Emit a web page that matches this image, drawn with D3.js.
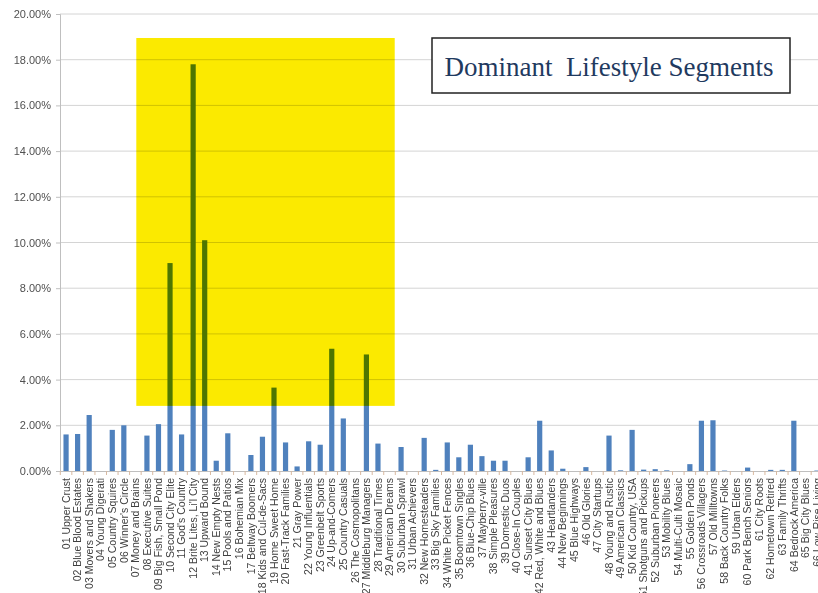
<!doctype html>
<html lang="en">
<head>
  <meta charset="UTF-8">
  <title>Dominant Lifestyle Segments</title>
  <script src="https://d3js.org/d3.v7.min.js"></script>
  <style>
    body { margin: 0; background: #fff; }
  </style>
</head>
<body>
  <div id="myDiv"></div>
  <script type="text/javascript">
    // segment names, in chart order
    var segments = ["01 Upper Crust", "02 Blue Blood Estates", "03 Movers and Shakers", "04 Young Digerati",
      "05 Country Squires", "06 Winner's Circle", "07 Money and Brains", "08 Executive Suites",
      "09 Big Fish, Small Pond", "10 Second City Elite", "11 God's Country", "12 Brite Lites, Li'l City",
      "13 Upward Bound", "14 New Empty Nests", "15 Pools and Patios", "16 Bohemian Mix",
      "17 Beltway Boomers", "18 Kids and Cul-de-Sacs", "19 Home Sweet Home", "20 Fast-Track Families",
      "21 Gray Power", "22 Young Influentials", "23 Greenbelt Sports", "24 Up-and-Comers",
      "25 Country Casuals", "26 The Cosmopolitans", "27 Middleburg Managers", "28 Traditional Times",
      "29 American Dreams", "30 Suburban Sprawl", "31 Urban Achievers", "32 New Homesteaders",
      "33 Big Sky Families", "34 White Picket Fences", "35 Boomtown Singles", "36 Blue-Chip Blues",
      "37 Mayberry-ville", "38 Simple Pleasures", "39 Domestic Duos", "40 Close-In Couples",
      "41 Sunset City Blues", "42 Red, White and Blues", "43 Heartlanders", "44 New Beginnings",
      "45 Blue Highways", "46 Old Glories", "47 City Startups", "48 Young and Rustic",
      "49 American Classics", "50 Kid Country, USA", "51 Shotguns and Pickups", "52 Suburban Pioneers",
      "53 Mobility Blues", "54 Multi-Culti Mosaic", "55 Golden Ponds", "56 Crossroads Villagers",
      "57 Old Milltowns", "58 Back Country Folks", "59 Urban Elders", "60 Park Bench Seniors",
      "61 City Roots", "62 Hometown Retired", "63 Family Thrifts", "64 Bedrock America",
      "65 Big City Blues", "66 Low-Rise Living"];

    // share of households, percent
    var shares = [1.6, 1.62, 2.45, 0, 1.8, 2.0, 0, 1.55, 2.05, 9.1, 1.6, 17.8,
      10.1, 0.45, 1.65, 0, 0.7, 1.5, 3.65, 1.25, 0.2, 1.3, 1.15, 5.35,
      2.3, 0, 5.1, 1.2, 0, 1.05, 0, 1.45, 0.05, 1.25, 0.6, 1.15,
      0.65, 0.45, 0.45, 0, 0.6, 2.2, 0.9, 0.1, 0, 0.17, 0, 1.55,
      0.03, 1.8, 0.06, 0.08, 0.03, 0, 0.3, 2.2, 2.22, 0.02, 0, 0.15,
      0, 0.05, 0.05, 2.2, 0, 0.02];

    var yTicks = [0, 2, 4, 6, 8, 10, 12, 14, 16, 18, 20];

    // highlighted block: from segment 07 to 29, between these levels
    var highlight = { from: "07 Money and Brains", to: "29 American Dreams", low: 2.85, high: 18.95 };

    var data = segments.map(function(s, i) { return { name: s, value: shares[i] }; });

    var width = 818, height = 593;
    var margin = { top: 14, left: 60, bottom: 122 };
    var plotRight = 823;

    var svg = d3.select("#myDiv").append("svg")
      .attr("width", width)
      .attr("height", height)
      .style("display", "block");

    var x = d3.scaleBand()
      .domain(segments)
      .range([margin.left, plotRight])
      .paddingInner(0.55)
      .paddingOuter(0.3);

    var y = d3.scaleLinear()
      .domain([0, 20])
      .range([height - margin.bottom, margin.top]);

    // gridlines
    svg.append("g")
      .selectAll("line")
      .data(yTicks.filter(function(t) { return t > 0; }))
      .enter().append("line")
        .attr("x1", margin.left)
        .attr("x2", plotRight)
        .attr("y1", function(d) { return y(d); })
        .attr("y2", function(d) { return y(d); })
        .attr("stroke", "#d4d4d4")
        .attr("stroke-width", 1);

    // y axis
    var yAxis = d3.axisLeft(y)
      .tickValues(yTicks)
      .tickFormat(function(d) { return d.toFixed(2) + "%"; })
      .tickSize(4)
      .tickPadding(5);
    var gy = svg.append("g")
      .attr("transform", "translate(" + margin.left + ",0)")
      .call(yAxis);
    gy.select(".domain").attr("stroke", "#bfbfbf");
    gy.selectAll(".tick line").attr("stroke", "#bfbfbf");
    gy.selectAll("text")
      .attr("fill", "#505050")
      .style("font-family", "'Liberation Sans', Arial, sans-serif")
      .style("font-size", "11px");

    // bars
    svg.append("g")
      .selectAll("rect")
      .data(data)
      .enter().append("rect")
        .attr("x", function(d) { return x(d.name); })
        .attr("y", function(d) { return y(d.value); })
        .attr("width", x.bandwidth())
        .attr("height", function(d) { return y(0) - y(d.value); })
        .attr("fill", "#4f81bd");

    // x axis
    var xAxis = d3.axisBottom(x).tickSize(0).tickPadding(6);
    var gx = svg.append("g")
      .attr("transform", "translate(0," + y(0) + ")")
      .call(xAxis);
    gx.select(".domain").attr("stroke", "#bfbfbf");
    gx.selectAll("text")
      .attr("transform", "rotate(-90)")
      .attr("x", -7)
      .attr("y", 0)
      .attr("dy", "0.35em")
      .style("text-anchor", "end")
      .attr("fill", "#404040")
      .style("font-family", "'Liberation Sans', Arial, sans-serif")
      .style("font-size", "10.5px");

    // small tick marks between categories
    var step = x.step();
    gx.selectAll(".sep")
      .data(segments)
      .enter().append("line")
        .attr("class", "sep")
        .attr("x1", function(d) { return x(d) + x.bandwidth() / 2 - step / 2; })
        .attr("x2", function(d) { return x(d) + x.bandwidth() / 2 - step / 2; })
        .attr("y1", 0)
        .attr("y2", 4)
        .attr("stroke", "#d8b9a0");

    // yellow highlight over the bars
    var hx0 = x(highlight.from) + x.bandwidth() / 2 + step * 0.08;
    var hx1 = x(highlight.to) + x.bandwidth() / 2 + step * 0.45;
    svg.append("rect")
      .attr("x", hx0)
      .attr("y", y(highlight.high))
      .attr("width", hx1 - hx0)
      .attr("height", y(highlight.low) - y(highlight.high))
      .attr("fill", "#fbea00")
      .style("mix-blend-mode", "multiply");

    // title box
    var title = svg.append("g");
    title.append("rect")
      .attr("x", 432)
      .attr("y", 38)
      .attr("width", 358)
      .attr("height", 55)
      .attr("fill", "#fff")
      .attr("stroke", "#222")
      .attr("stroke-width", 1.5);
    title.append("text")
      .attr("x", 609)
      .attr("y", 76)
      .attr("text-anchor", "middle")
      .attr("fill", "#1f3a5f")
      .style("font-family", "'Liberation Serif', 'DejaVu Serif', serif")
      .style("font-size", "27px")
      .style("white-space", "pre")
      .text("Dominant  Lifestyle Segments");
  </script>
</body>
</html>
